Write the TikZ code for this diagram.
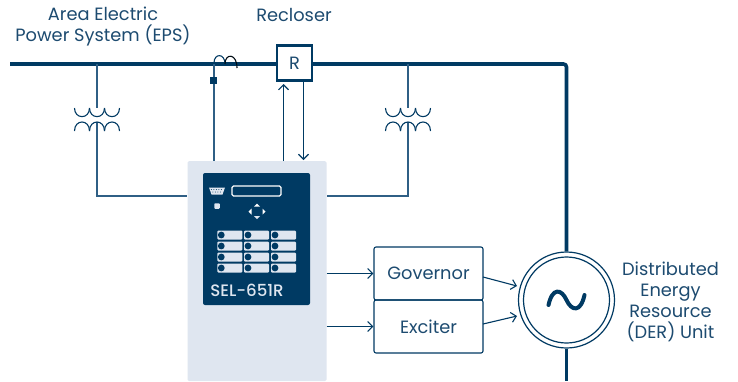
\documentclass[tikz,border=0pt]{standalone}
\usepackage{fontspec}
\setmainfont{Poppins}
\usetikzlibrary{arrows.meta}
\definecolor{navy}{HTML}{003A63}
\definecolor{wire}{HTML}{2F5F85}
\definecolor{panel}{HTML}{DFE6F0}
\definecolor{txt}{HTML}{1D4B70}
\tikzset{
 x=1pt,y=-1pt,
 lbl/.style={font=\fontsize{17.8}{21}\selectfont,text=txt,align=center,inner sep=0pt},
 thin wire/.style={draw=wire,line width=1.3pt},
 bus/.style={draw=navy,line width=3.6pt},
 sig/.style={draw=navy,line width=1.1pt,-{Straight Barb[length=5pt,width=10pt,line width=1.1pt]}},
 coil/.style={draw=navy,line width=1.1pt},
 btn/.style={fill=panel,rounded corners=1pt,minimum width=25pt,minimum height=9pt,inner sep=0pt},
 led/.style={circle,fill=navy,minimum size=6.8pt,inner sep=0pt},
}
\begin{document}
\begin{tikzpicture}
\useasboundingbox (0,0) rectangle (738,381);
\fill[white] (0,0) rectangle (738,381);
% coordinates
\coordinate (busL) at (10,64);
\coordinate (busC) at (566.5,64);
\coordinate (genB) at (566.5,381);
\coordinate (t1) at (97,64);
\coordinate (t1a) at (97,108);
\coordinate (t1b) at (97,122);
\coordinate (t2) at (408,64);
\coordinate (t2a) at (408,108);
\coordinate (t2b) at (408,122);
\coordinate (ct) at (214,64);
% panel
\node[fill=panel,rounded corners=1.5pt,minimum width=139pt,minimum height=220pt,inner sep=0pt] (relay) at (257,271) {};
\node[fill=navy,rounded corners=2pt,minimum width=107pt,minimum height=132pt,inner sep=0pt] (face) at (256.5,239) {};
% generator
\node[circle,draw=navy,line width=1.2pt,fill=white,minimum size=96pt,inner sep=0pt] (gen) at (566.5,300) {};
\node[circle,draw=navy,line width=1.2pt,minimum size=86pt,inner sep=0pt] (genin) at (566.5,300) {};
% bus
\draw[bus,rounded corners=3pt] (busL) -- (busC) -- (gen.north);
\draw[bus] (gen.south) -- (genB);
% recloser
\node[draw=navy,line width=2.2pt,fill=white,minimum size=35pt,inner sep=0pt,lbl] (rec) at (294.5,63) {R};
% transformers
\draw[thin wire] (t1) -- (t1a);
\draw[thin wire] (t1b) -- (97,196) -- (relay.west |- 0,196);
\draw[thin wire] (t2) -- (t2a);
\draw[thin wire] (t2b) -- (408,196) -- (relay.east |- 0,196);
\foreach \s in {74.5,89.5,104.5,385.5,400.5,415.5}{
 \draw[coil] (\s,108) .. controls (\s,119.5) and (\s+15,119.5) .. (\s+15,108);
 \draw[coil] (\s,131) .. controls (\s,119) and (\s+15,119) .. (\s+15,131);
}
% CT
\draw[thin wire] (ct) -- (214,161);
\node[fill=navy,minimum size=7pt,inner sep=0pt] (ctdot) at (213.5,80) {};
\draw[coil] (214,63) .. controls (214,53) and (225,53) .. (225,64);
\draw[line width=1.1pt,draw=black!80!navy] (225,64) .. controls (225,53) and (237,53) .. (237,68);
% recloser signals
\coordinate (up0) at (283.5,161);
\coordinate (up1) at (283.5,84);
\coordinate (dn0) at (303.5,81);
\coordinate (dn1) at (303.5,160);
\draw[sig] (up0) -- (up1);
\draw[sig] (dn0) -- (dn1);
% control boxes
\node[draw=navy,line width=1.1pt,rounded corners=2pt,minimum width=109pt,minimum height=53pt,inner sep=0pt,lbl] (gov) at (428.5,273.5) {\raisebox{-1pt}{Governor}};
\node[draw=navy,line width=1.1pt,rounded corners=2pt,minimum width=109pt,minimum height=53pt,inner sep=0pt,lbl] (exc) at (428.5,326.5) {Exciter};
\draw[sig] (relay.east |- gov) -- (gov.west);
\draw[sig] (relay.east |- exc) -- (exc.west);
\coordinate (g1) at (517,286);
\coordinate (g2) at (517,316);
\draw[sig] (483,277) -- (g1);
\draw[sig] (483,324) -- (g2);
% sine
\draw[navy,line width=4pt,line cap=round] (548.5,305) .. controls (552.5,287) and (561.5,289) .. (566.5,300) .. controls (571.5,311) and (580.5,313) .. (584.5,295);
% face details
\node[draw=white,line width=1.2pt,rounded corners=1.5pt,minimum width=49pt,minimum height=10pt,inner sep=0pt] (disp) at (256.5,191) {};
\fill[panel] (209,187.5) -- (225,187.5) -- (222.5,194.5) -- (211.5,194.5) -- cycle;
\foreach \i in {211,213.5,216,218.5,221}{\fill[navy] (\i+.3,189.5) circle[radius=.5];}
\foreach \i in {212.5,215,217.5,220}{\fill[navy] (\i+.3,192) circle[radius=.5];}
\node[fill=panel,rounded corners=.8pt,minimum size=5.5pt,inner sep=0pt] (sq) at (217,206) {};
\fill[white] (257,203.5) -- (260,206.5) -- (254,206.5) -- cycle;
\fill[panel] (257,219) -- (260,216) -- (254,216) -- cycle;
\fill[white] (248.5,211.5) -- (251.5,208.5) -- (251.5,214.5) -- cycle;
\fill[white] (265.5,211.5) -- (262.5,208.5) -- (262.5,214.5) -- cycle;
\foreach \y in {235,246,257,268}{
 \foreach \x in {229.8,256.5,283.5}{
  \node[btn] at (\x,\y) {};
  \node[led] at (\x-8.5,\y) {};
 }
}
\node[lbl,text=panel,font=\fontsize{16.6}{20}\selectfont\fontspec{Poppins Medium}] (sel) at (247,290) {SEL-651R};
% labels
\node[lbl] (eps) at (103,27) {Area Electric\\Power System (EPS)};
\node[lbl] (rl) at (294,15) {Recloser};
\node[lbl] (der) at (670.5,301.5) {Distributed\\Energy\\Resource\\(DER) Unit};
\end{tikzpicture}
\end{document}
